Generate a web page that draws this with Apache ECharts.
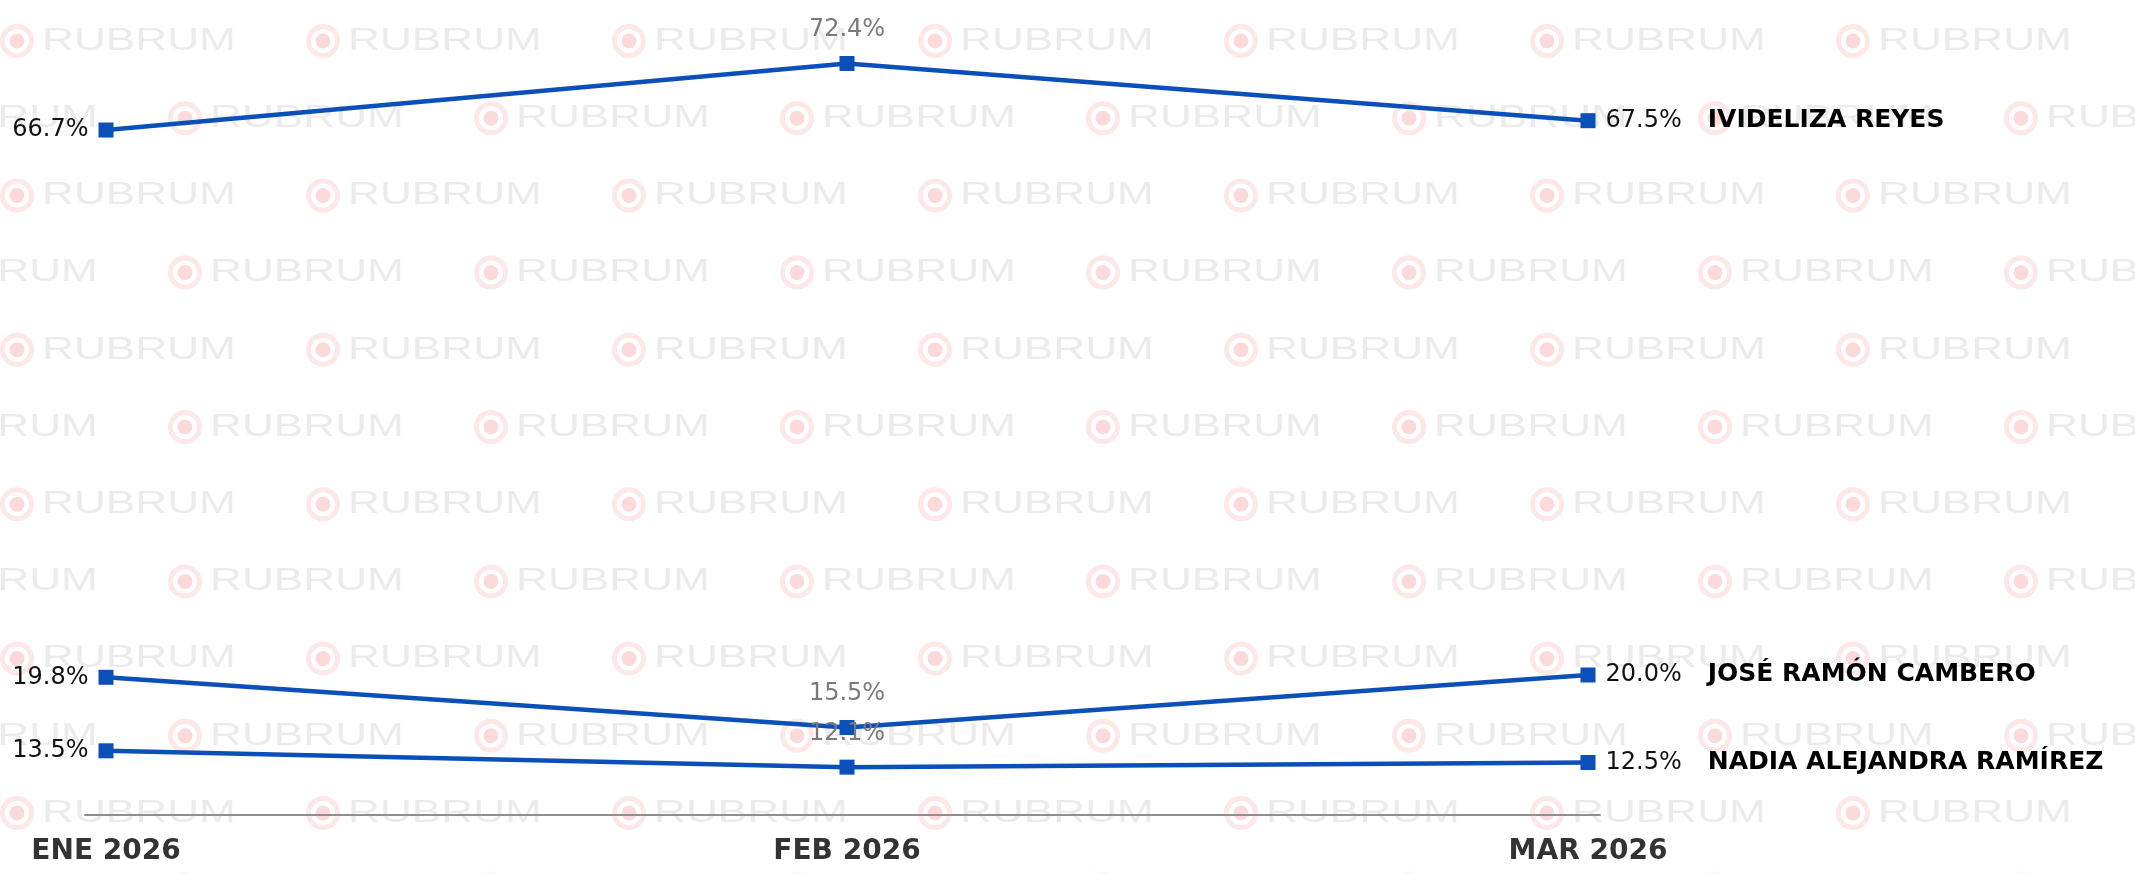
<!DOCTYPE html>
<html>
<head>
	<meta charset="utf-8" />
	<title>Ivideliza Reyes / José Ramón Cambero / Nadia Alejandra Ramírez</title>
	<script src="https://cdn.jsdelivr.net/npm/echarts@6.0.0/dist/echarts.min.js"></script>
	<style>
		html, body { margin: 0; padding: 0; background: #fff; }
		#chart { width: 2135px; height: 874px; }
	</style>
</head>
<body>
<div id="chart"></div>
<script type="text/javascript">
	// datos
	var meses = ['ENE 2026', 'FEB 2026', 'MAR 2026'];
	var nombres = ['IVIDELIZA REYES', 'JOSÉ RAMÓN CAMBERO', 'NADIA ALEJANDRA RAMÍREZ'];
	var reyes = [66.7, 72.4, 67.5];
	var cambero = [19.8, 15.5, 20.0];
	var ramirez = [13.5, 12.1, 12.5];

	var azul = '#0b4fb8';
	var fuente = 'DejaVu Sans';

	function pct(v) { return v.toFixed(1) + '%'; }

	// etiqueta distinta para el primer, el del medio y el ultimo punto
	function puntos(vals, nombre) {
		return vals.map(function (v, i) {
			if (i === 0) {
				return { value: v, label: { show: true, position: 'left', distance: 10,
					formatter: pct(v), color: '#111', fontSize: 24, fontFamily: fuente } };
			}
			if (i === vals.length - 1) {
				return { value: v, label: { show: true, position: 'right', distance: 10,
					formatter: '{v|' + pct(v) + '}{n|' + nombre + '}',
					rich: {
						v: { color: '#111', fontSize: 24, fontFamily: fuente },
						n: { color: '#000', fontSize: 25, fontWeight: 'bold', fontFamily: fuente, padding: [0, 0, 0, 26] }
					} } };
			}
			return { value: v, label: { show: true, position: 'top', distance: 14,
				formatter: pct(v), color: '#7a7a7a', fontSize: 24, fontFamily: fuente } };
		});
	}

	function serie(nombre, vals) {
		return {
			name: nombre,
			type: 'line',
			xAxisIndex: 0,
			yAxisIndex: 0,
			data: puntos(vals, nombre),
			symbol: 'rect',
			symbolSize: 15,
			lineStyle: { color: azul, width: 4.5 },
			itemStyle: { color: azul },
			z: 5
		};
	}

	// marca de agua de fondo
	function marcaAgua() {
		var els = [];
		for (var f = 0; f < 12; f++) {
			var y = 41 + 77.2 * f;
			var x0 = (f % 2 === 0) ? 17 : -121;
			for (var k = 0; k < 8; k++) {
				var x = x0 + 306 * k;
				els.push({ type: 'circle', z: -10, silent: true,
					shape: { cx: x, cy: y, r: 14.5 },
					style: { fill: 'none', stroke: '#fde7e7', lineWidth: 5 } });
				els.push({ type: 'circle', z: -10, silent: true,
					shape: { cx: x, cy: y, r: 7.5 },
					style: { fill: '#fcdada' } });
				els.push({ type: 'text', z: -10, silent: true,
					x: x + 25, y: y, scaleX: 1.38,
					style: { text: 'RUBRUM', fill: '#ebebeb', fontSize: 32,
						fontFamily: 'Liberation Sans', verticalAlign: 'middle' } });
			}
		}
		return els;
	}

	var myChart = echarts.init(document.getElementById('chart'));
	var option = {
		backgroundColor: '#fff',
		animation: false,
		graphic: marcaAgua(),
		grid: [
			{ left: 106, right: 547, top: 4, bottom: 59 },
			{ left: 85, right: 535, top: 4, bottom: 59 }
		],
		xAxis: [
			{
				type: 'category',
				gridIndex: 0,
				data: meses,
				boundaryGap: false,
				axisLine: { show: false },
				axisTick: { show: false },
				axisLabel: { color: '#333', fontSize: 28, fontWeight: 'bold', fontFamily: fuente, margin: 23 },
				splitLine: { show: false }
			},
			{
				type: 'value',
				gridIndex: 1,
				min: 0,
				max: 1,
				axisLine: { show: true, lineStyle: { color: '#8f8f8f', width: 2 } },
				axisTick: { show: false },
				axisLabel: { show: false },
				splitLine: { show: false }
			}
		],
		yAxis: [
			{ type: 'value', gridIndex: 0, min: 8, max: 77.5, show: false },
			{ type: 'value', gridIndex: 1, min: 0, max: 1, show: false }
		],
		series: [
			serie(nombres[0], reyes),
			serie(nombres[1], cambero),
			serie(nombres[2], ramirez)
		]
	};
	myChart.setOption(option);
</script>
</body>
</html>
